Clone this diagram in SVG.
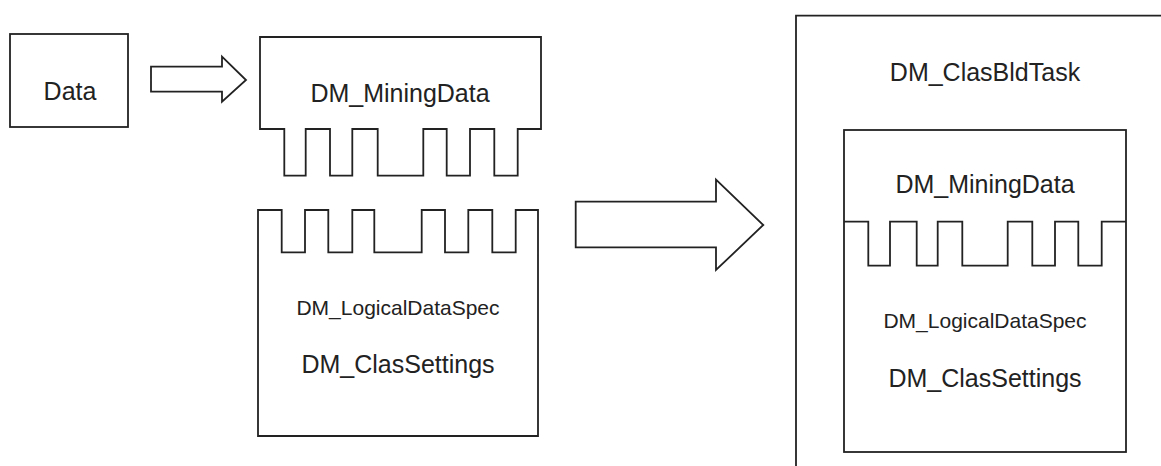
<svg xmlns="http://www.w3.org/2000/svg" width="1161" height="466" viewBox="0 0 1161 466">
<style>
.sh{fill:#fff;stroke:#222;stroke-width:1.8;stroke-linejoin:miter}
.ln{fill:none;stroke:#222;stroke-width:1.8}
.t{font-family:"Liberation Sans",Arial,sans-serif;fill:#222;text-anchor:middle}
</style>
<rect width="1161" height="466" fill="#fff"/>
<g id="data">
<rect class="sh" x="10" y="34" width="118" height="93"/>
<text class="t" x="70" y="100" font-size="25">Data</text>
</g>
<g id="mining-data">
<path class="sh" d="M260,37 H541 V129 H517.7 V175.7 H494.3 V129 H470 V175.7 H446.7 V129 H423.3 V175.7 H377.7 V129 H352.3 V175.7 H330 V129 H305.7 V175.7 H284.3 V129 H260 Z"/>
<text class="t" x="400" y="102" font-size="25">DM_MiningData</text>
</g>
<g id="logical-data-spec">
<path class="sh" d="M258,436 V210 H281.7 V252.3 H305 V210 H328.3 V252.3 H352.3 V210 H374.3 V252.3 H421.7 V210 H445 V252.3 H468.3 V210 H492.3 V252.3 H515.7 V210 H538 V436 Z"/>
<text class="t" x="398" y="315" font-size="21">DM_LogicalDataSpec</text>
<text class="t" x="398" y="373" font-size="25">DM_ClasSettings</text>
</g>
<g id="clas-bld-task">
<path class="ln" d="M1161,15.7 H796 V466"/>
<text class="t" x="985" y="81" font-size="25">DM_ClasBldTask</text>
<rect class="sh" x="844" y="130" width="282" height="322"/>
<text class="t" x="985" y="193" font-size="25">DM_MiningData</text>
<path class="ln" d="M844,221.7 H868.3 V265.7 H890 V221.7 H916.7 V265.7 H937.7 V221.7 H962.3 V265.7 H1007.7 V221.7 H1032.3 V265.7 H1055 V221.7 H1078.3 V265.7 H1101.7 V221.7 H1126"/>
<text class="t" x="985" y="328" font-size="21">DM_LogicalDataSpec</text>
<text class="t" x="985" y="387" font-size="25">DM_ClasSettings</text>
</g>
<g id="connectors">
<polygon class="sh" points="151,66.7 222,66.7 222,56.7 246,80 222,101.7 222,91.7 151,91.7"/>
<polygon class="sh" points="575.7,201.7 716,201.7 716,179.5 763.3,225 716,270 716,247.3 575.7,247.3"/>
</g>
</svg>
